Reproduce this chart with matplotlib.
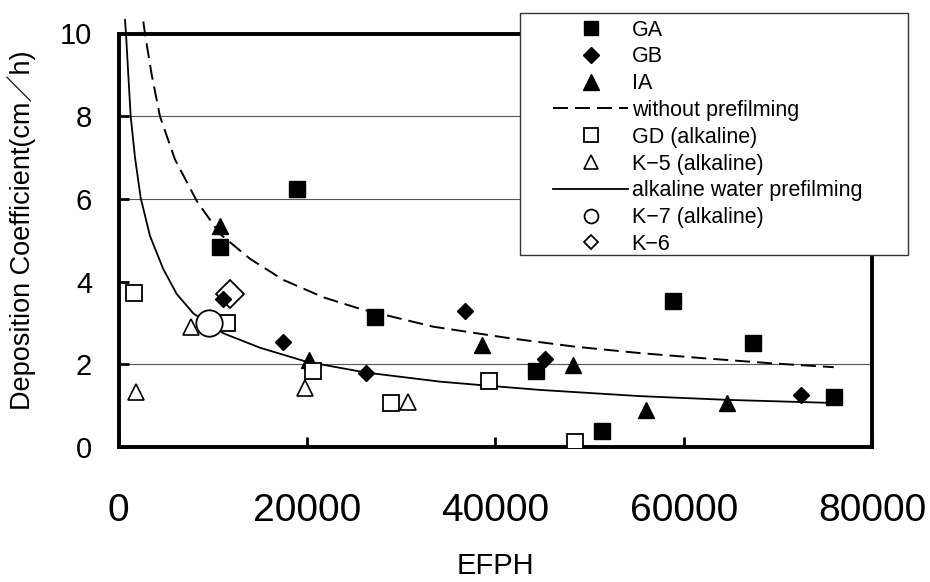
import matplotlib
matplotlib.use("Agg")
import matplotlib.pyplot as plt
from matplotlib.lines import Line2D
from matplotlib.patches import Rectangle
from matplotlib.font_manager import FontProperties

# ---- measured series -------------------------------------------------------
ga_x = [10780, 19000, 27250, 44320, 51330, 58830, 67380, 75940]
ga_y = [4.84, 6.24, 3.14, 1.85, 0.39, 3.54, 2.51, 1.20]

gb_x = [11070, 17510, 26290, 36810, 45310, 72480]
gb_y = [3.57, 2.55, 1.80, 3.29, 2.12, 1.26]

ia_x = [10780, 20240, 38590, 48210, 56010, 64620]
ia_y = [5.34, 2.10, 2.47, 1.98, 0.89, 1.07]

gd_x = [1680, 11490, 20630, 28950, 39360, 48500]
gd_y = [3.73, 2.99, 1.85, 1.06, 1.60, 0.13]

k5_x = [1830, 7700, 19810, 30720]
k5_y = [1.34, 2.91, 1.42, 1.10]

k7_x = [9650]
k7_y = [2.99]

k6_x = [11850]
k6_y = [3.70]

# trend curve without prefilming
nopre_x = [2635, 2815, 3527, 4409, 6003, 8308, 10783, 13970, 17510, 21760,
           25660, 33410, 41240, 48320, 55400, 62490, 69570, 75940]
nopre_y = [10.29, 9.99, 9.0, 7.99, 6.95, 5.95, 5.15, 4.55, 4.04, 3.62,
           3.34, 2.91, 2.64, 2.43, 2.27, 2.14, 2.02, 1.93]

# trend curve with alkaline water prefilming
alk_x = [690, 797, 1040, 1296, 1753, 2359, 3347, 4760, 6183, 7947, 11134,
         15033, 19994, 26290, 34160, 39360, 44780, 55400, 64610, 75060]
alk_y = [10.33, 9.99, 9.0, 7.99, 7.0, 6.02, 5.10, 4.30, 3.70, 3.23, 2.75,
         2.40, 2.06, 1.80, 1.58, 1.48, 1.38, 1.23, 1.14, 1.07]

x_ticks = [0, 20000, 40000, 60000, 80000]
y_ticks = [0, 2, 4, 6, 8, 10]
grid_levels = [2, 6, 8]

labels = ["GA", "GB", "IA", "without prefilming", "GD (alkaline)",
          "K−5 (alkaline)", "alkaline water prefilming", "K−7 (alkaline)", "K−6"]

# ---- figure ----------------------------------------------------------------
W, H = 930, 582
fig = plt.figure(figsize=(W / 100, H / 100), dpi=100)
plt.rcParams["font.family"] = ["Liberation Sans", "Noto Sans CJK JP", "DejaVu Sans"]

ax_l, ax_r, ax_t, ax_b = 118.5, 872.0, 33.5, 447.0
ax = fig.add_axes([ax_l / W, 1 - ax_b / H, (ax_r - ax_l) / W, (ax_b - ax_t) / H])
ax.set_xlim(0, 80000)
ax.set_ylim(0, 10)

for v in grid_levels:
    ax.axhline(v, color="#555555", lw=0.8, zorder=1)

ax.plot(nopre_x, nopre_y, color="black", lw=1.4, dashes=(7.7, 3.6),
        clip_on=False, zorder=2)
ax.plot(alk_x, alk_y, color="black", lw=1.3, clip_on=False, zorder=2)

ax.plot(ga_x, ga_y, ls="none", marker="s", ms=11.5, color="black", zorder=4)
ax.plot(gb_x, gb_y, ls="none", marker="D", ms=8.5, color="black", zorder=4)
ax.plot(ia_x, ia_y, ls="none", marker="^", ms=11.5, color="black", zorder=4)
ax.plot(gd_x, gd_y, ls="none", marker="s", ms=11, mfc="white", mec="black",
        mew=1.3, zorder=5)
ax.plot(k5_x, k5_y, ls="none", marker="^", ms=11.5, mfc="white", mec="black",
        mew=1.2, zorder=3)
ax.plot(k7_x, k7_y, ls="none", marker="o", ms=19, mfc="white", mec="black",
        mew=1.3, zorder=6)
ax.plot(k6_x, k6_y, ls="none", marker="D", ms=14.5, mfc="none", mec="black",
        mew=1.3, zorder=6)

for s in ax.spines.values():
    s.set_linewidth(2.8)
    s.set_color("black")

ax.set_xticks(x_ticks)
ax.set_yticks(y_ticks)
ax.set_xticklabels([str(t) for t in x_ticks])
ax.set_yticklabels([str(t) for t in y_ticks])
ax.tick_params(axis="both", direction="in", length=7, width=2, color="black")
ax.tick_params(axis="x", labelsize=28, pad=33)
ax.tick_params(axis="y", labelsize=21, pad=19)

fig.text(22 / W, 1 - 230 / H, "Deposition Coefficient(cm／h)", rotation=90,
         ha="center", va="center", fontsize=19.5)
fig.text(495 / W, 1 - 566 / H, "EFPH", ha="center", va="center", fontsize=21)

# ---- legend ----------------------------------------------------------------
box_l, box_t, box_r, box_b = 520, 13, 908, 255
fig.add_artist(Rectangle((box_l / W, 1 - box_b / H), (box_r - box_l) / W,
                         (box_b - box_t) / H, transform=fig.transFigure,
                         facecolor="white", edgecolor="#333333", lw=1.0,
                         zorder=10))

handles = [
    Line2D([], [], ls="none", marker="s", ms=10.5, color="black"),
    Line2D([], [], ls="none", marker="D", ms=8, color="black"),
    Line2D([], [], ls="none", marker="^", ms=11, color="black"),
    Line2D([], [], color="black", lw=1.4, dashes=(7.7, 3.6)),
    Line2D([], [], ls="none", marker="s", ms=10, mfc="white", mec="black", mew=1.3),
    Line2D([], [], ls="none", marker="^", ms=10, mfc="white", mec="black", mew=1.2),
    Line2D([], [], color="black", lw=1.3),
    Line2D([], [], ls="none", marker="o", ms=10, mfc="white", mec="black", mew=1.3),
    Line2D([], [], ls="none", marker="D", ms=7.5, mfc="white", mec="black", mew=1.3),
]
prop = FontProperties(family=["Liberation Sans", "Noto Sans CJK JP"], size=15.5)
leg = fig.legend(handles, labels, loc="upper left",
                 bbox_to_anchor=(553 / W, 1 - 19.5 / H), frameon=False,
                 borderpad=0, borderaxespad=0, handlelength=3.5,
                 handletextpad=0.15, labelspacing=0.27, prop=prop)
leg.set_zorder(11)

fig.savefig("out.png", dpi=100)
